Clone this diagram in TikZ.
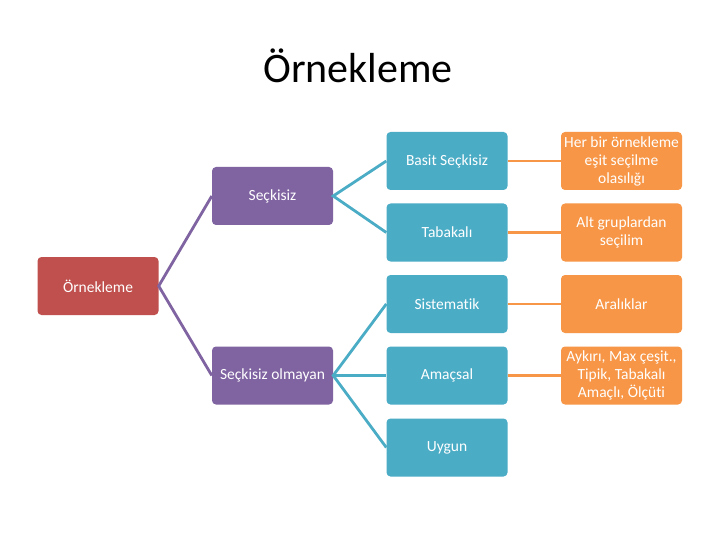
\documentclass[tikz,border=0pt]{standalone}
\usepackage{fontspec}
\setmainfont{Carlito}[Ligatures={NoCommon}]
\definecolor{cred}{HTML}{C0504D}
\definecolor{cpurple}{HTML}{8064A2}
\definecolor{cteal}{HTML}{4BACC6}
\definecolor{corange}{HTML}{F79646}
\begin{document}
\begin{tikzpicture}[x=1pt,y=-1pt,
  box/.style={rounded corners=4pt, minimum width=121pt, minimum height=58pt,
    text=white, font=\fontsize{15.5}{18}\selectfont, align=center, inner sep=1pt},
  rootbox/.style={box, fill=cred},
  midbox/.style={box, fill=cpurple},
  leafbox/.style={box, fill=cteal},
  notebox/.style={box, fill=corange},
  plink/.style={draw=cpurple, line width=2.8pt},
  tlink/.style={draw=cteal, line width=2.8pt},
  olink/.style={draw=corange, line width=2.8pt}]
\useasboundingbox[fill=white] (0,0) rectangle (720,540);
\node (title) at (358,66) {\fontsize{42}{48}\selectfont Örnekleme};
\node[rootbox] (orn) at (98,286) {Örnekleme};
\node[midbox] (sec) at (272.5,196) {Seçkisiz};
\node[midbox] (secol) at (272.5,375.5) {Seçkisiz olmayan};
\node[leafbox] (basit) at (447,161) {Basit Seçkisiz};
\node[leafbox] (tab) at (447,232.5) {Tabakalı};
\node[leafbox] (sis) at (447,304) {Sistematik};
\node[leafbox] (ama) at (447,375.5) {Amaçsal};
\node[leafbox] (uyg) at (447,447.5) {Uygun};
\node[notebox] (n1) at (621.5,161) {Her bir örnekleme\\eşit seçilme\\olasılığı};
\node[notebox] (n2) at (621.5,232.5) {Alt gruplardan\\seçilim};
\node[notebox] (n3) at (621.5,304) {Aralıklar};
\node[notebox] (n4) at (621.5,375.5) {Aykırı, Max çeşit.,\\Tipik, Tabakalı\\Amaçlı, Ölçüti};
\draw[plink] (sec.west) -- (orn.east) -- (secol.west);
\draw[tlink] (basit.west) -- (sec.east) -- (tab.west);
\draw[tlink] (sis.west) -- (secol.east) -- (uyg.west);
\draw[tlink] (secol.east) -- (ama.west);
\draw[olink] (basit) -- (n1);
\draw[olink] (tab) -- (n2);
\draw[olink] (sis) -- (n3);
\draw[olink] (ama) -- (n4);
\end{tikzpicture}
\end{document}
